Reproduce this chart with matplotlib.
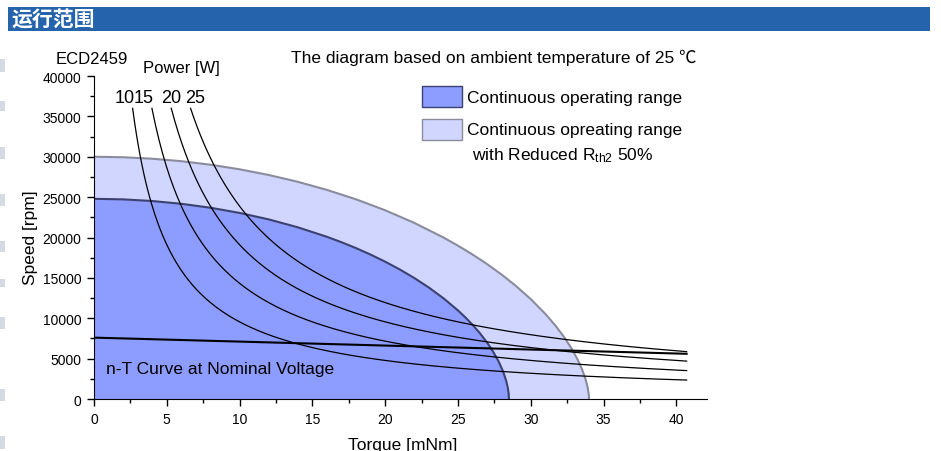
import numpy as np
import matplotlib.pyplot as plt
from matplotlib.patches import Rectangle
from matplotlib.ticker import MultipleLocator

plt.rcParams['font.family'] = ['Liberation Sans', 'DejaVu Sans']
plt.rcParams['mathtext.fontset'] = 'custom'
plt.rcParams['mathtext.rm'] = 'Liberation Sans'
plt.rcParams['mathtext.it'] = 'Liberation Sans:italic'

# continuous operating range boundary (torque mNm, speed rpm)
cont_torque = [0, 2, 4, 6, 8, 10, 12, 14, 16, 17, 18, 19, 20, 21, 22, 23, 24, 25, 25.5,
               26, 26.5, 27, 27.4, 27.8, 28.1, 28.3, 28.42, 28.48, 28.5]
cont_speed = [24790, 24722, 24517, 24173, 23684, 23044, 22241, 21261, 20084, 19414, 18681,
              17880, 17004, 16042, 14979, 13800, 12476, 10964, 10115, 9187, 8157, 6986,
              5903, 4609, 3388, 2309, 1389, 643, 0]

# continuous range with reduced Rth2 50%
red_torque = [0, 2, 4, 6, 8, 10, 12, 14, 16, 18, 20, 22, 24, 25, 26, 27, 28, 29, 30, 31,
              31.7, 32.3, 32.8, 33.2, 33.5, 33.75, 33.9, 33.98, 34.0]
red_speed = [30000, 29939, 29755, 29447, 29012, 28446, 27743, 26895, 25894, 24725, 23371,
             21807, 20000, 18987, 17893, 16703, 15403, 13967, 12363, 10535, 9069, 7632,
             6247, 4938, 3756, 2504, 1463, 568, 0]

# n-T curve at nominal voltage
nt_torque = [0, 40.7]
nt_speed = [7600, 5600]

# constant power curves [W]
power_w = [10, 15, 20, 25]
power_labels = ['10', '15', '20', '25']
power_tmax = 40.7
power_nmax = 36000

W, H = 941, 452
fig = plt.figure(figsize=(W / 100, H / 100), dpi=100)


def px(x, y):
    return x / W, 1 - y / H


# header bar
fig.patches.append(Rectangle(px(8, 32), 922 / W, 24 / H, transform=fig.transFigure,
                             color='#2563ac', lw=0))
fig.text(*px(12, 20), '运行范围', color='white', fontsize=15, fontweight='bold',
         family=['Noto Sans CJK SC'], va='center')

# page fragments at the left edge
for y0, y1 in [(60, 73), (102, 112), (148, 160), (195, 207), (242, 253), (280, 288),
               (318, 330), (390, 402), (437, 450)]:
    fig.patches.append(Rectangle(px(0, y1), 5 / W, (y1 - y0) / H, transform=fig.transFigure,
                                 color='#d5d9e3', lw=0))

ax = fig.add_axes([94 / W, 1 - 400 / H, 613 / W, 323 / H])
ax.fill_between(red_torque, red_speed, color='#d0d6ff', lw=0)
ax.plot(red_torque, red_speed, color='#8a8c9c', lw=1.5)
ax.fill_between(cont_torque, cont_speed, color='#8c9cff', lw=0)
ax.plot(cont_torque, cont_speed, color='#3c4270', lw=1.5)

for p in power_w:
    t = np.linspace(p * 60000 / (2 * np.pi * power_nmax), power_tmax, 300)
    ax.plot(t, p * 60000 / (2 * np.pi * t), color='black', lw=0.9)
ax.plot(nt_torque, nt_speed, color='black', lw=1.5)

label_x = [2.1, 3.44, 5.33, 6.94]
for lx, lab in zip(label_x, power_labels):
    ax.text(lx, 37300, lab, fontsize=13, ha='center', va='center')

ax.text(0.8, 3800, 'n-T Curve at Nominal Voltage', fontsize=12.5, va='center')

ax.set_xlim(0, 42.1)
ax.set_ylim(0, 40000)
ax.xaxis.set_major_locator(MultipleLocator(5))
ax.xaxis.set_minor_locator(MultipleLocator(2.5))
ax.yaxis.set_major_locator(MultipleLocator(5000))
ax.yaxis.set_minor_locator(MultipleLocator(2500))
ax.tick_params(which='major', length=5, width=1, labelsize=10, pad=4)
ax.tick_params(which='minor', length=3, width=1)
for s in ['top', 'right']:
    ax.spines[s].set_visible(False)

fig.text(*px(31, 238), 'Speed [rpm]', fontsize=12.5, rotation=90, ha='center', va='center')
fig.text(*px(403, 446), 'Torque [mNm]', fontsize=12.5, ha='center', va='center')

fig.text(*px(56, 59), 'ECD2459', fontsize=12, va='center')
fig.text(*px(143, 68), 'Power [W]', fontsize=12, va='center')
fig.text(*px(291, 58), 'The diagram based on ambient temperature of 25 ℃', fontsize=12.5,
         va='center', family=['Liberation Sans', 'Noto Sans CJK SC'])

# legend
fig.patches.append(Rectangle(px(422, 108), 40 / W, 21 / H, transform=fig.transFigure,
                             facecolor='#8c9cff', edgecolor='#3c4270', lw=1))
fig.patches.append(Rectangle(px(422, 141), 40 / W, 21 / H, transform=fig.transFigure,
                             facecolor='#d0d6ff', edgecolor='#8a8c9c', lw=1))
fig.text(*px(467, 98), 'Continuous operating range', fontsize=12.5, va='center')
fig.text(*px(467, 131), 'Continuous opreating range', fontsize=12.5, va='center')
fig.text(*px(472, 156), r'with Reduced R$_{\mathrm{th2}}$ 50%', fontsize=12.5, va='center')

fig.savefig('out.png', dpi=100)
